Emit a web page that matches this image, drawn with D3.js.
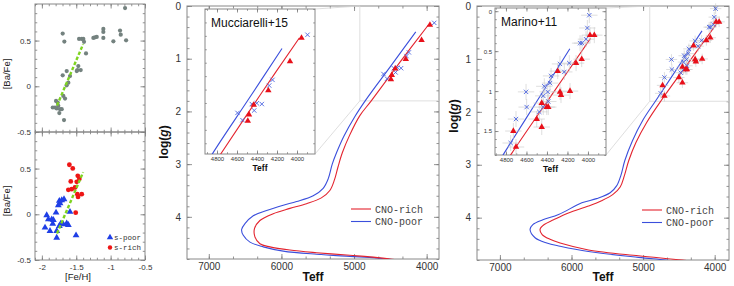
<!DOCTYPE html>
<html>
<head>
<meta charset="utf-8">
<script src="https://cdn.jsdelivr.net/npm/d3@7"></script>
<style>
  body { margin: 0; background: #fff; }
  svg { display: block; font-family: "Liberation Sans", Arial, sans-serif; }
</style>
</head>
<body>
<svg id="root"></svg>
<script>
// ---- left panels: [Ba/Fe] vs [Fe/H]
const grayFeH  = [-1.842,-1.809,-1.784,-1.761,-1.794,-1.770,-1.736,-1.746,-1.711,-1.688,-1.663,-1.678,-1.697,-1.697,-1.673,-1.639,-1.615,-1.639,-1.591,-1.493,-1.470,-1.484,-1.435,-1.459,-1.420,-1.397,-1.387,-1.358,-1.251,-1.227,-1.202,-1.106,-1.106,-1.106,-0.960,-0.863,-0.853,-0.775,-0.790];
const grayBaFe = [-0.232,-0.232,-0.243,-0.214,-0.160,-0.178,-0.250,-0.293,-0.250,-0.105,-0.134,-0.370,0.120,0.576,0.489,0.166,0.040,0.011,0.112,0.166,0.221,0.177,0.177,0.518,0.518,0.518,0.486,0.359,0.529,0.536,0.540,0.627,0.595,0.529,0.492,0.609,0.565,0.503,0.855];
const sPoorFeH  = [-1.954,-1.882,-1.906,-1.930,-1.857,-1.833,-1.842,-1.784,-1.746,-1.726,-1.784,-1.794,-1.761,-1.736,-1.746,-1.711,-1.678,-1.688,-1.639,-1.615,-1.591,-1.503];
const sPoorBaFe = [-0.146,-0.183,-0.055,-0.011,-0.055,-0.062,-0.103,-0.183,-0.128,-0.103,-0.256,0.018,0.099,0.121,0.147,0.154,0.165,-0.110,-0.099,-0.117,0.026,-0.231];
const sRichFeH  = [-1.600,-1.551,-1.580,-1.478,-1.455,-1.493,-1.615,-1.566,-1.518,-1.484,-1.474,-1.420,-1.508];
const sRichBaFe = [0.542,0.502,0.359,0.421,0.385,0.355,0.267,0.275,0.293,0.220,0.190,0.220,0.018];
const fitFeH  = [-1.78, -1.40];
const fitBaFe = [-0.21, 0.46];
const feHTicks = [-2, -1.5, -1, -0.5];
const baFeTicks = [-0.5, 0, 0.5];

// ---- Mucciarelli+15 stars
const mucPoorTeff = [3895,4245,4278,4352,4402,4452,4428,4595,4545];
const mucPoorLogg = [0.32,0.88,0.95,1.18,1.17,1.18,1.26,1.29,1.38];
const mucRichTeff = [3955,4070,4287,4433,4480,4492];
const mucRichLogg = [0.36,0.65,1.01,1.19,1.31,1.39];

// ---- Marino+11 stars
const marPoorTeff = [3987,4006,4019,4077,4058,4182,4273,4231,4360,4370,4426,4393,4436,4604,4387,4436,4598,4475,4702,4754];
const marPoorLogg = [0.05,0.21,0.35,0.40,0.40,0.65,0.66,0.76,0.81,0.90,0.94,1.01,1.06,1.01,1.13,1.20,1.20,1.26,1.35,1.65];
const marRichTeff = [3938,3980,4061,4116,4295,4273,4263,4175,4451,4402,4387,4500,4451,4728,4702];
const marRichLogg = [0.30,0.30,0.60,0.65,0.75,1.01,1.05,1.00,1.15,1.20,1.20,1.35,1.45,1.50,1.70];
const errTeff = 80, errLogg = 0.1;

// ---- isochrones [Teff, logg]
const mucIsoRich = [[3977,0.36],[4370,1.07],[4763,1.80],[4920,2.08],[5060,2.45],[5160,2.78],[5220,3.05],[5270,3.30],[5333,3.50],[5450,3.64],[5654,3.75],[5883,3.84],[6113,3.94],[6296,4.07],[6370,4.22],[6365,4.38],[6296,4.51],[6158,4.57],[5883,4.63],[5516,4.68],[5058,4.73],[4783,4.76],[4508,4.80],[4200,4.85]];
const mucIsoPoor = [[4150,0.49],[4490,1.13],[4837,1.78],[4990,2.10],[5140,2.47],[5240,2.78],[5300,3.00],[5356,3.28],[5425,3.46],[5562,3.60],[5791,3.71],[5975,3.78],[6204,3.88],[6388,3.98],[6502,4.13],[6548,4.24],[6525,4.35],[6433,4.48],[6250,4.57],[5975,4.65],[5516,4.71],[5058,4.75],[4691,4.78],[4300,4.84]];
const marIsoRich = [[3975,0.34],[4360,1.06],[4744,1.78],[4950,2.20],[5100,2.58],[5200,2.92],[5260,3.20],[5320,3.42],[5420,3.56],[5580,3.68],[5763,3.78],[6043,3.91],[6250,4.04],[6380,4.13],[6439,4.22],[6410,4.32],[6300,4.41],[6159,4.48],[5763,4.61],[5065,4.72],[4457,4.80],[4100,4.86]];
const marIsoPoor = [[4177,0.47],[4500,1.13],[4819,1.78],[5000,2.15],[5150,2.55],[5255,2.92],[5310,3.20],[5370,3.40],[5460,3.53],[5650,3.64],[5856,3.72],[6180,3.94],[6400,4.04],[6540,4.13],[6579,4.22],[6509,4.38],[6345,4.48],[6159,4.54],[5763,4.64],[5065,4.75],[4691,4.80],[4300,4.86]];

const teffTicks = [7000, 6000, 5000, 4000];
const loggTicks = [0, 1, 2, 3, 4];
const insetTeffTicks = [4800, 4600, 4400, 4200, 4000];
const insetLoggTicks = [0, 0.5, 1, 1.5];
const legendLabels = ["CNO-rich", "CNO-poor"];

const RED = "#e3242f", BLUE = "#3b4fdc";
const svg = d3.select("#root").attr("width", 734).attr("height", 286);
const defs = svg.append("defs");
let clipId = 0;

function clipFor(x, y) {
  const [x0, x1] = d3.extent(x.range()), [y0, y1] = d3.extent(y.range());
  const id = "clip" + (clipId++);
  defs.append("clipPath").attr("id", id)
    .append("rect").attr("x", x0).attr("y", y0).attr("width", x1 - x0).attr("height", y1 - y0);
  return `url(#${id})`;
}

// ticks on all four sides, pointing in
function axesBox(g, x, y, o) {
  const [x0, x1] = d3.extent(x.range()), [y0, y1] = d3.extent(y.range());
  const len = o.len;
  const put = (axis, tx, ty) => g.append("g")
    .attr("transform", `translate(${tx},${ty})`)
    .call(axis)
    .attr("font-size", o.font).attr("font-family", null)
    .call(s => s.select(".domain").remove())
    .call(s => s.selectAll("line").attr("stroke", "#777").attr("stroke-width", 0.8))
    .call(s => s.selectAll("text").attr("fill", "#333"));
  const fmt = d => String(d);
  put(d3.axisBottom(x).tickValues(o.xMinor).tickSize(-len / 2).tickFormat(""), 0, y1);
  put(d3.axisTop(x).tickValues(o.xMinor).tickSize(-len / 2).tickFormat(""), 0, y0);
  put(d3.axisLeft(y).tickValues(o.yMinor).tickSize(-len / 2).tickFormat(""), x0, 0);
  put(d3.axisRight(y).tickValues(o.yMinor).tickSize(-len / 2).tickFormat(""), x1, 0);
  put(d3.axisBottom(x).tickValues(o.xMajor).tickSize(-len).tickPadding(o.xPad || 3).tickFormat(o.xLab ? fmt : ""), 0, y1);
  put(d3.axisTop(x).tickValues(o.xMajor).tickSize(-len).tickFormat(""), 0, y0);
  put(d3.axisLeft(y).tickValues(o.yMajor).tickSize(-len).tickPadding(o.yPad || 3).tickFormat(o.yLab ? fmt : ""), x0, 0);
  put(d3.axisRight(y).tickValues(o.yMajor).tickSize(-len).tickFormat(""), x1, 0);
  g.append("rect").attr("x", x0).attr("y", y0).attr("width", x1 - x0).attr("height", y1 - y0)
    .attr("fill", "none").attr("stroke", "#888").attr("stroke-width", 1);
}

function within(lo, hi, step, start) {
  return d3.range(start, hi + 1e-6, step).filter(v => v >= lo - 1e-6);
}

// ================= left panels =================
const lx = d3.scaleLinear().domain([-2.1, -0.5]).range([35, 145]);
const lyTop = d3.scaleLinear().domain([-0.5, 0.9]).range([132, 4]);
const lyBot = d3.scaleLinear().domain([-0.5, 0.9]).range([260, 132]);
const lxMinor = within(-2.1, -0.5, 0.1, -2.1);
const lyMinor = within(-0.5, 0.9, 0.1, -0.5);
const fitLine = ly => d3.line().x(d => lx(d[0])).y(d => ly(d[1]))(d3.zip(fitFeH, fitBaFe));

[lyTop, lyBot].forEach((ly, i) => {
  const g = svg.append("g");
  axesBox(g, lx, ly, {
    len: 4.5, font: 8, xMajor: feHTicks, xMinor: lxMinor, yMajor: baFeTicks, yMinor: lyMinor,
    xLab: i === 1, yLab: true, xPad: 4, yPad: 4
  });
  g.append("text")
    .attr("transform", `translate(10,${i === 0 ? 74 : 201}) rotate(-90)`)
    .attr("text-anchor", "middle").attr("font-size", 9.5).attr("fill", "#222")
    .text("[Ba/Fe]");
});

svg.append("g").selectAll("circle")
  .data(d3.zip(grayFeH, grayBaFe)).join("circle")
  .attr("cx", d => lx(d[0])).attr("cy", d => lyTop(d[1])).attr("r", 2.1)
  .attr("fill", "#74827f");
svg.append("path").attr("d", fitLine(lyTop))
  .attr("stroke", "#7ed321").attr("stroke-width", 2.4).attr("stroke-dasharray", "3.5,2").attr("fill", "none");

svg.append("g").selectAll("path")
  .data(d3.zip(sPoorFeH, sPoorBaFe)).join("path")
  .attr("transform", d => `translate(${lx(d[0])},${lyBot(d[1])})`)
  .attr("d", d3.symbol(d3.symbolTriangle, 20)).attr("fill", "#1f3fe6");
svg.append("g").selectAll("circle")
  .data(d3.zip(sRichFeH, sRichBaFe)).join("circle")
  .attr("cx", d => lx(d[0])).attr("cy", d => lyBot(d[1])).attr("r", 2.4)
  .attr("fill", "#ee1515");
svg.append("path").attr("d", fitLine(lyBot))
  .attr("stroke", "#7ed321").attr("stroke-width", 2.4).attr("stroke-dasharray", "3.5,2").attr("fill", "none");

svg.append("text").attr("x", 78).attr("y", 280).attr("text-anchor", "middle")
  .attr("font-size", 9.5).attr("fill", "#222").text("[Fe/H]");

// s-poor / s-rich legend
const sLeg = svg.append("g").attr("font-family", "'Liberation Mono', monospace").attr("font-size", 7.5).attr("fill", "#333");
sLeg.append("path").attr("transform", "translate(110,237.5)").attr("d", d3.symbol(d3.symbolTriangle, 18)).attr("fill", "#1f3fe6");
sLeg.append("circle").attr("cx", 110).attr("cy", 247.5).attr("r", 2.2).attr("fill", "#ee1515");
sLeg.append("text").attr("x", 114).attr("y", 240).text("s-poor");
sLeg.append("text").attr("x", 114).attr("y", 250).text("s-rich");

// ================= HR panels =================
const panels = [
  {
    x: d3.scaleLinear().domain([7300, 3830]).range([187, 439]),
    y: d3.scaleLinear().domain([0, 4.8]).range([6, 259]),
    ix: d3.scaleLinear().domain([4920, 3820]).range([205, 315]),
    iy: d3.scaleLinear().domain([0, 1.8]).range([9, 154]),
    rich: mucIsoRich, poor: mucIsoPoor,
    stars: { pT: mucPoorTeff, pG: mucPoorLogg, rT: mucRichTeff, rG: mucRichLogg, err: false },
    name: "Mucciarelli+15", insetYLab: false, insetYMinor: within(0, 1.8, 1 / 6, 0),
    yTitle: 142, legX: 351, legY: 209
  },
  {
    x: d3.scaleLinear().domain([7320, 3800]).range([477, 729]),
    y: d3.scaleLinear().domain([0, 4.8]).range([6, 260]),
    ix: d3.scaleLinear().domain([4907, 3824]).range([495, 606]),
    iy: d3.scaleLinear().domain([-0.04, 1.8]).range([8, 155]),
    rich: marIsoRich, poor: marIsoPoor,
    stars: { pT: marPoorTeff, pG: marPoorLogg, rT: marRichTeff, rG: marRichLogg, err: true },
    name: "Marino+11", insetYLab: true, insetYMinor: within(-0.04, 1.8, 0.1, 0),
    yTitle: 116, legX: 642, legY: 210
  }
];

function drawIso(g, x, y, clip, iso) {
  const line = d3.line().x(d => x(d[0])).y(d => y(d[1])).curve(d3.curveCatmullRom.alpha(0.5));
  const c = g.append("g").attr("clip-path", clip).attr("fill", "none").attr("stroke-width", 1.1);
  c.append("path").attr("d", line(iso.poor)).attr("stroke", BLUE);
  c.append("path").attr("d", line(iso.rich)).attr("stroke", RED);
}

function drawStars(g, x, y, s, triSize, xSize) {
  const poor = d3.zip(s.pT, s.pG), rich = d3.zip(s.rT, s.rG);
  if (s.err) {
    const e = g.append("g").attr("stroke", "#c8c8c8").attr("stroke-width", 0.6);
    poor.concat(rich).forEach(d => {
      e.append("line").attr("x1", x(d[0] - errTeff)).attr("x2", x(d[0] + errTeff)).attr("y1", y(d[1])).attr("y2", y(d[1]));
      e.append("line").attr("x1", x(d[0])).attr("x2", x(d[0])).attr("y1", y(d[1] - errLogg)).attr("y2", y(d[1] + errLogg));
    });
  }
  g.append("g").selectAll("path").data(poor).join("path")
    .attr("transform", d => `translate(${x(d[0])},${y(d[1])})`)
    .attr("d", d3.symbol(d3.symbolTimes, xSize))
    .attr("fill", "none").attr("stroke", "#4a63e0").attr("stroke-width", 0.9);
  g.append("g").selectAll("path").data(rich).join("path")
    .attr("transform", d => `translate(${x(d[0])},${y(d[1])})`)
    .attr("d", d3.symbol(d3.symbolTriangle, triSize))
    .attr("fill", "#e8101a");
}

panels.forEach(p => {
  const g = svg.append("g");
  const { x, y, ix, iy } = p;
  const [X0, X1] = d3.extent(x.range()), [Y0, Y1] = d3.extent(y.range());

  axesBox(g, x, y, {
    len: 5, font: 10, xMajor: teffTicks, xMinor: within(3800, 7320, 1000 / 3, 3000),
    yMajor: loggTicks, yMinor: within(0, 4.8, 0.2, 0), xLab: true, yLab: true, xPad: 4, yPad: 6
  });

  // zoomed region in the main plot
  const rx = x(ix.domain()[0]), ry0 = y(Math.max(0, iy.domain()[0])), ry1 = y(iy.domain()[1]);
  g.append("path")
    .attr("d", `M${rx},${ry0}V${ry1}H${X1}`)
    .attr("fill", "none").attr("stroke", "#d6d6d6").attr("stroke-width", 0.8);

  drawIso(g, x, y, clipFor(x, y), p);
  drawStars(g, x, y, p.stars, 18, 14);

  // connector lines
  const [ix0, ix1] = ix.range(), [iy0, iy1] = iy.range();
  g.append("path")
    .attr("d", `M${ix1},${iy0}L${rx},${ry0}M${ix1},${iy1}L${rx},${ry1}`)
    .attr("stroke", "#d6d6d6").attr("stroke-width", 0.8).attr("fill", "none");

  // inset
  const ig = g.append("g");
  ig.append("rect").attr("x", ix0).attr("y", iy0).attr("width", ix1 - ix0).attr("height", iy1 - iy0).attr("fill", "#fff");
  axesBox(ig, ix, iy, {
    len: 3.5, font: 6, xMajor: insetTeffTicks, xMinor: within(3820, 4920, 100, 3800),
    yMajor: p.insetYLab ? insetLoggTicks : [], yMinor: p.insetYMinor,
    xLab: true, yLab: p.insetYLab, xPad: 2.5, yPad: 3
  });
  drawIso(ig, ix, iy, clipFor(ix, iy), p);
  drawStars(ig, ix, iy, p.stars, 18, 14);
  ig.append("text").attr("x", ix0 + 6).attr("y", iy0 + 18)
    .attr("font-size", 12).attr("fill", "#111").text(p.name);
  ig.append("text").attr("x", (ix0 + ix1) / 2).attr("y", iy1 + 17).attr("text-anchor", "middle")
    .attr("font-size", 8.5).attr("font-weight", "bold").attr("fill", "#111").text("Teff");

  // axis titles
  g.append("text").attr("x", (X0 + X1) / 2).attr("y", 281).attr("text-anchor", "middle")
    .attr("font-size", 12).attr("font-weight", "bold").attr("fill", "#111").text("Teff");
  const yt = g.append("text")
    .attr("transform", `translate(${X0 - 19},${p.yTitle}) rotate(-90)`)
    .attr("text-anchor", "middle").attr("font-size", 12).attr("font-weight", "bold").attr("fill", "#111");
  yt.append("tspan").text("log(");
  yt.append("tspan").attr("font-style", "italic").text("g");
  yt.append("tspan").text(")");

  // legend
  const lg = g.append("g").attr("font-family", "'Liberation Mono', monospace").attr("font-size", 10).attr("fill", "#444");
  [RED, BLUE].forEach((c, i) => {
    const yy = p.legY + i * 12.5;
    lg.append("line").attr("x1", p.legX).attr("x2", p.legX + 20).attr("y1", yy).attr("y2", yy)
      .attr("stroke", c).attr("stroke-width", 1.1);
    lg.append("text").attr("x", p.legX + 24).attr("y", yy + 3.5).text(legendLabels[i]);
  });
});
</script>
</body>
</html>
